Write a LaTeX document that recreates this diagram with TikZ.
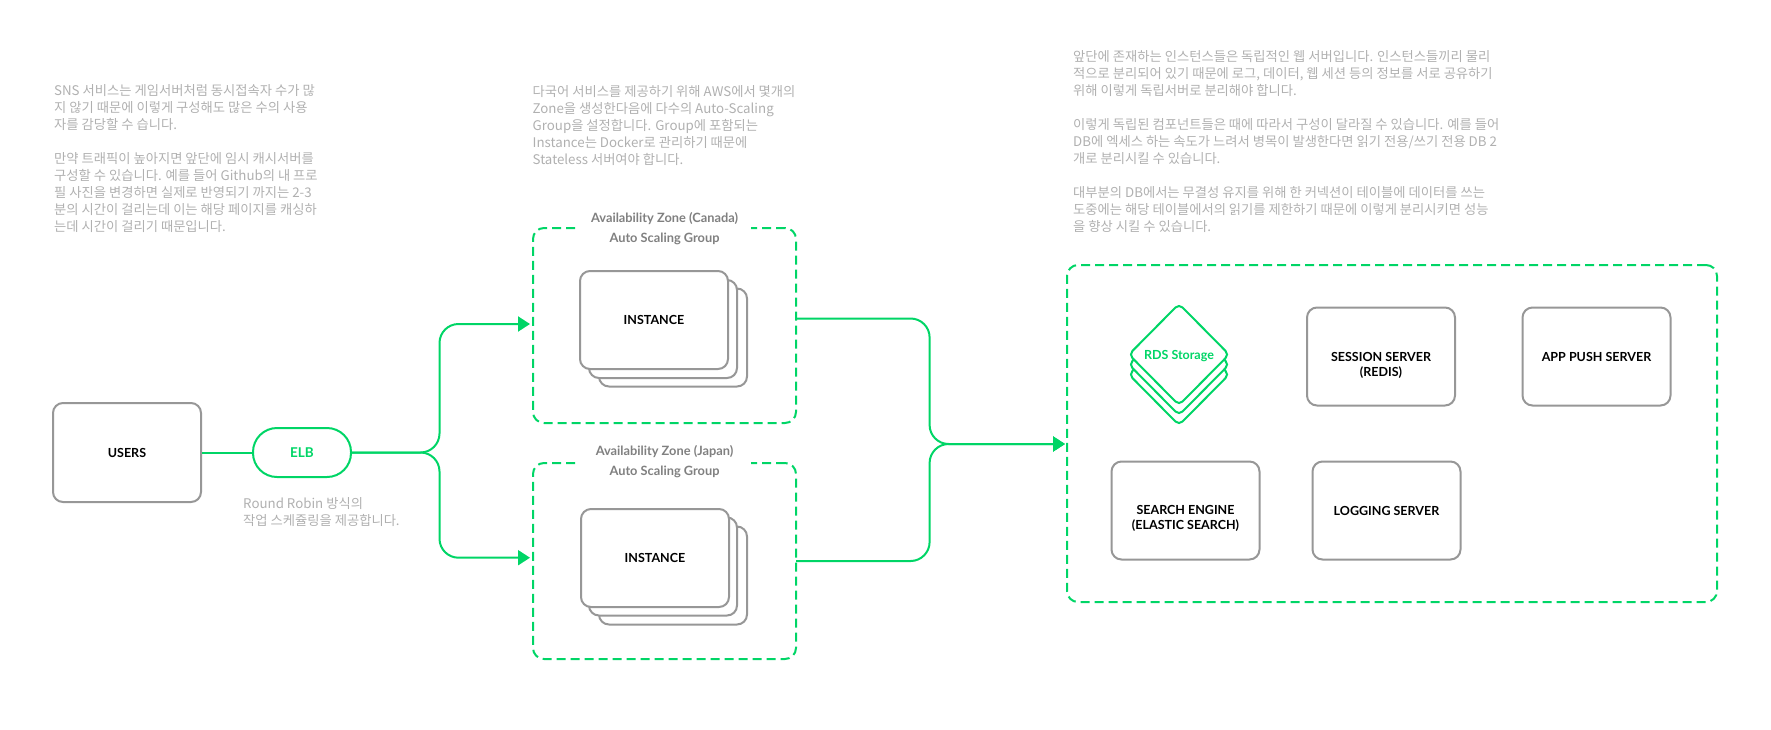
\documentclass[tikz,border=0pt]{standalone}
\usepackage{fontspec}
\usepackage{xcolor}
\usetikzlibrary{arrows.meta,shapes.geometric}
\setmainfont{Lato}
\newfontfamily\krfont{Noto Sans CJK KR}
\definecolor{flowgreen}{HTML}{00D566}
\definecolor{boxgray}{HTML}{979797}
\definecolor{notegray}{HTML}{B0B0B0}
\definecolor{zonegray}{HTML}{808080}
\tikzset{
	greybox/.style={draw=boxgray,line width=2pt,fill=white,rounded corners=10pt,minimum width=148pt,minimum height=98pt,inner sep=0pt,align=center,font=\fontsize{12.5}{14.7}\selectfont\bfseries},
	zonebox/.style={draw=flowgreen,line width=2pt,dash pattern=on 9pt off 5pt,rounded corners=11pt,inner sep=0pt},
	zonelabel/.style={fill=white,minimum width=173pt,inner sep=0pt,align=center,text=zonegray,font=\fontsize{12.8}{20}\selectfont\bfseries},
	dbstack/.style={diamond,draw=flowgreen,line width=2pt,fill=white,rounded corners=5pt,minimum width=101pt,minimum height=102pt,inner sep=0pt},
	notetext/.style={anchor=north west,inner sep=0pt,align=left,text=notegray,font=\krfont\fontsize{13.3}{17}\selectfont},
	flowline/.style={draw=flowgreen,line width=2pt,rounded corners=19pt},
	flowarrow/.style={flowline,-{Triangle[length=12pt,width=15pt]}}
}
\begin{document}
\begin{tikzpicture}[x=1pt,y=-1pt]
	\useasboundingbox (0,0) rectangle (1771,729);

	% notes
	\node[notetext] (noteSns) at (54,84) {SNS 서비스는 게임서버처럼 동시접속자 수가 많\\지 않기 때문에 이렇게 구성해도 많은 수의 사용\\자를 감당할 수 습니다.\\[17pt]만약 트래픽이 높아지면 앞단에 임시 캐시서버를\\구성할 수 있습니다. 예를 들어 Github의 내 프로\\필 사진을 변경하면 실제로 반영되기 까지는 2-3\\분의 시간이 걸리는데 이는 해당 페이지를 캐싱하\\는데 시간이 걸리기 때문입니다.};
	\node[notetext] (noteZone) at (532.5,85) {다국어 서비스를 제공하기 위해 AWS에서 몇개의\\Zone을 생성한다음에 다수의 Auto-Scaling\\Group을 설정합니다. Group에 포함되는\\Instance는 Docker로 관리하기 때문에\\Stateless 서버여야 합니다.};
	\node[notetext] (noteServer) at (1073,50) {앞단에 존재하는 인스턴스들은 독립적인 웹 서버입니다. 인스턴스들끼리 물리\\적으로 분리되어 있기 때문에 로그, 데이터, 웹 세션 등의 정보를 서로 공유하기\\위해 이렇게 독립서버로 분리해야 합니다.\\[17pt]이렇게 독립된 컴포넌트들은 때에 따라서 구성이 달라질 수 있습니다. 예를 들어\\DB에 엑세스 하는 속도가 느려서 병목이 발생한다면 읽기 전용/쓰기 전용 DB 2\\개로 분리시킬 수 있습니다.\\[17pt]대부분의 DB에서는 무결성 유지를 위해 한 커넥션이 테이블에 데이터를 쓰는\\도중에는 해당 테이블에서의 읽기를 제한하기 때문에 이렇게 분리시키면 성능\\을 향상 시킬 수 있습니다.};
	\node[notetext] (noteElb) at (243,497.5) {Round Robin 방식의\\작업 스케쥴링을 제공합니다.};

	% users and elb
	\node[greybox,minimum height=99pt] (users) at (127,452.5) {USERS};
	\node[draw=flowgreen,line width=2pt,rounded corners=24pt,minimum width=98pt,minimum height=49pt,inner sep=0pt,text=flowgreen,font=\fontsize{13.5}{15}\selectfont\bfseries] (elb) at (302,452.5) {ELB};
	\draw[draw=flowgreen,line width=2pt] (users) -- (elb);

	% zones
	\node[zonebox,minimum width=263pt,minimum height=195pt] (zoneCanada) at (664.5,325.5) {};
	\node[zonebox,minimum width=263pt,minimum height=196pt] (zoneJapan) at (664.5,561) {};
	\node[zonelabel] (labelCanada) at (664.5,229) {Availability Zone (Canada)\\Auto Scaling Group};
	\node[zonelabel] (labelJapan) at (664.5,461.5) {Availability Zone (Japan)\\Auto Scaling Group};

	% instances
	\node[greybox] (canadaC) at (673,337.5) {};
	\node[greybox] (canadaB) at (663,329) {};
	\node[greybox] (canadaA) at (654,320) {INSTANCE};
	\node[greybox] (japanC) at (673,575.5) {};
	\node[greybox] (japanB) at (663,566.5) {};
	\node[greybox] (japanA) at (655,558) {INSTANCE};

	% servers
	\node[zonebox,minimum width=650pt,minimum height=337pt] (rack) at (1392,433.5) {};
	\node[dbstack] (rdsC) at (1179,374.5) {};
	\node[dbstack] (rdsB) at (1179,364.5) {};
	\node[dbstack,text=flowgreen,text height=13pt,text depth=3pt,font=\fontsize{12.5}{15}\selectfont\bfseries] (rdsA) at (1179,354.5) {RDS Storage};
	\node[greybox] (session) at (1381,356.5) {\strut\\[2pt]SESSION SERVER\\(REDIS)};
	\node[greybox] (push) at (1596.5,356.5) {APP PUSH SERVER};
	\node[greybox] (search) at (1185.5,510.5) {\strut\\SEARCH ENGINE\\(ELASTIC SEARCH)};
	\node[greybox] (logging) at (1386.5,510.5) {LOGGING SERVER};

	% connectors
	\coordinate (fork) at (439.5,452.5);
	\coordinate (inCanada) at (530,324);
	\coordinate (inJapan) at (530,557.7);
	\coordinate (outCanada) at (796,318.5);
	\coordinate (outJapan) at (796,561);
	\coordinate (merge) at (929.6,444);
	\coordinate (inRack) at (1065,444);
	\draw[flowarrow] (elb.east) -- (fork) |- (inCanada);
	\draw[flowarrow] (elb.east) -- (fork) |- (inJapan);
	\draw[flowarrow] (outCanada) -| (merge) -- (inRack);
	\draw[flowarrow] (outJapan) -| (merge) -- (inRack);
\end{tikzpicture}
\end{document}
